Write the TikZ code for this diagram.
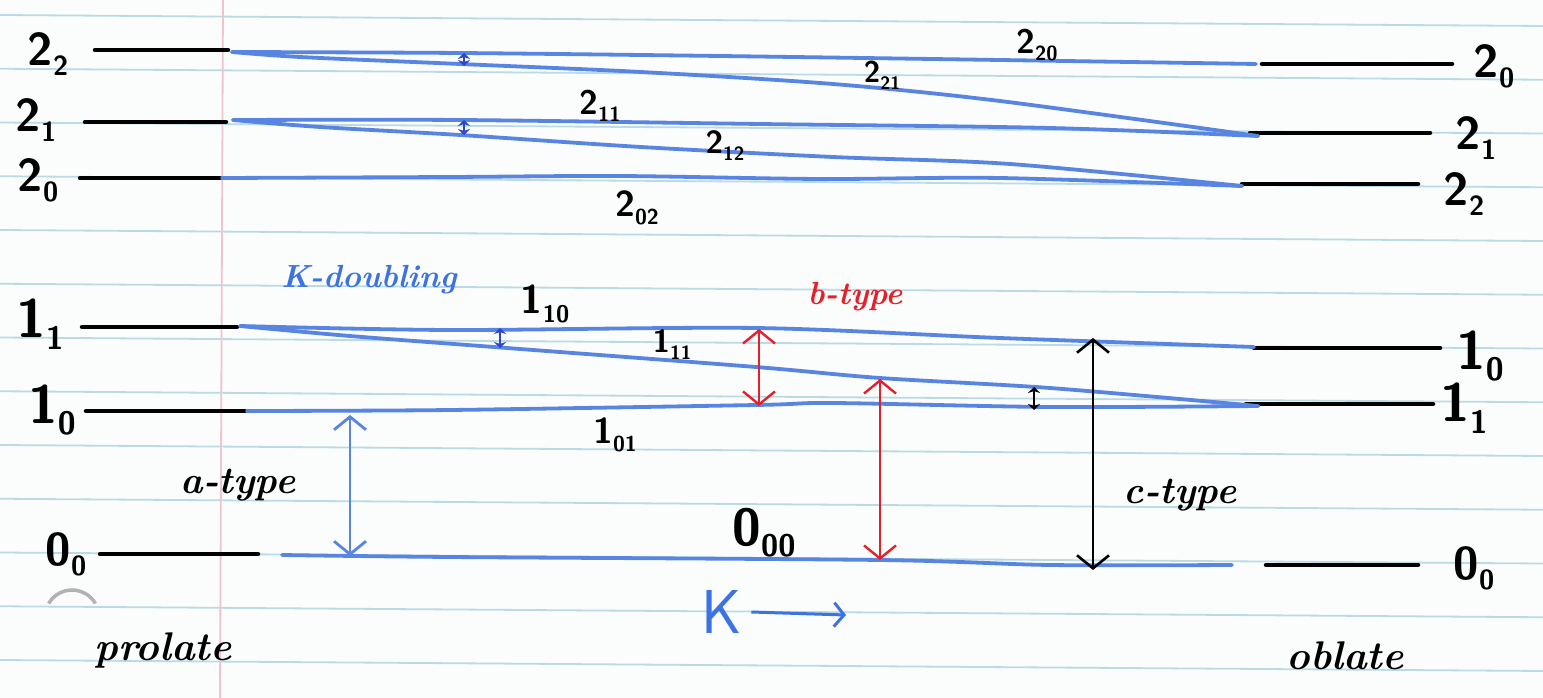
\documentclass[tikz,border=0pt]{standalone}
\usepackage{fontspec}
\usepackage{graphicx}
\usetikzlibrary{arrows.meta}
\definecolor{penblue}{RGB}{88,132,226}
\definecolor{inkblue}{RGB}{45,70,205}
\definecolor{textblue}{RGB}{60,115,225}
\definecolor{penred}{RGB}{228,32,42}
\definecolor{rulecol}{RGB}{185,218,230}
\definecolor{margincol}{RGB}{238,196,206}
\definecolor{paper}{RGB}{251,253,252}
\newcommand{\nl}[3]{{\fontsize{#1}{#1}\selectfont\sffamily\bfseries #2\raisebox{-0.22em}{\scalebox{0.6}{#3}}}}
\newcommand{\handword}[2]{{\fontsize{#1}{#1}\selectfont\itshape\bfseries #2}}
\tikzset{
  lvl/.style={black, line width=4.5pt, line cap=round},
  corr/.style={penblue, line width=3.8pt, line cap=round, line join=round},
  lab/.style={inner sep=0pt, anchor=center},
  bigarr/.style={line width=2.8pt, {Straight Barb[length=13pt,width=32pt]}-{Straight Barb[length=13pt,width=32pt]}},
  tinyarr/.style={line width=2.8pt, {Stealth[length=6pt,width=12pt]}-{Stealth[length=6pt,width=12pt]}},
  ruled/.style={rulecol, line width=1.8pt},
}
\begin{document}
\begin{tikzpicture}[x=1pt,y=-1pt]
\fill[paper] (0,0) rectangle (1543,698);
\useasboundingbox (0,0) rectangle (1543,698);
% ruled paper
\foreach \k in {0,...,12}{
  \draw[ruled] (0,{15+53.75*\k}) -- (1543,{26+53.75*\k});
}
\draw[margincol, line width=1.8pt] (223,0) -- (220,698);
% hole punch shadow
\coordinate (hole) at (72,617);
\draw[gray!60, line width=3.5pt] (hole) ++(-150:27) arc[start angle=-150, end angle=-30, radius=27];

% ---------- prolate levels (left) ----------
\coordinate (pa22) at (95,50);  \coordinate (pb22) at (228,50);
\coordinate (pa21) at (85,122); \coordinate (pb21) at (226,122);
\coordinate (pa20) at (80,178); \coordinate (pb20) at (220,178);
\coordinate (pa11) at (82,327); \coordinate (pb11) at (237,327);
\coordinate (pa10) at (86,411); \coordinate (pb10) at (245,411);
\coordinate (pa00) at (100,554); \coordinate (pb00) at (258,554);
\foreach \n in {22,21,20,11,10,00}{\draw[lvl] (pa\n) -- (pb\n);}

% ---------- oblate levels (right) ----------
\coordinate (oa20) at (1262,64);  \coordinate (ob20) at (1452,64);
\coordinate (oa21) at (1250,133); \coordinate (ob21) at (1430,133);
\coordinate (oa22) at (1242,184); \coordinate (ob22) at (1418,184);
\coordinate (oa10) at (1254,348); \coordinate (ob10) at (1440,348);
\coordinate (oa11) at (1246,404); \coordinate (ob11) at (1433,404);
\coordinate (oa00) at (1266,565); \coordinate (ob00) at (1418,565);
\foreach \n in {20,21,22,10,11,00}{\draw[lvl] (oa\n) -- (ob\n);}

% ---------- correlation lines ----------
\coordinate (L22) at (232,52);
\coordinate (L21) at (233,120);
\coordinate (L20) at (222,178);
\coordinate (L11) at (240,326);
\coordinate (L10) at (247,411);
\coordinate (L00) at (282,555);
\coordinate (R20) at (1256,64);
\coordinate (R21) at (1258,136);
\coordinate (R22) at (1242,186);
\coordinate (R10) at (1254,347);
\coordinate (R11) at (1258,406);
\coordinate (R00) at (1232,565);

\draw[corr] plot[smooth, tension=0.5] coordinates {(L22) (460,53) (720,56) (1000,60) (R20)};
\draw[corr] plot[smooth, tension=0.5] coordinates {(L22) (300,57) (460,64) (641,72) (833,84) (1000,101) (R21)};
\draw[corr] plot[smooth, tension=0.5] coordinates {(L21) (460,120) (760,124) (1050,128) (R21)};
\draw[corr] plot[smooth, tension=0.5] coordinates {(L21) (320,127) (460,135) (641,147) (833,157) (1010,164) (R22)};
\draw[corr] plot[smooth, tension=0.5] coordinates {(L20) (450,177) (620,176) (820,179) (1000,178) (R22)};
\draw[corr] plot[smooth, tension=0.5] coordinates {(L11) (450,330) (756,328) (1000,338) (R10)};
\draw[corr] plot[smooth, tension=0.5] coordinates {(L11) (350,336) (507,348) (756,367) (880,378) (1050,388) (R11)};
\draw[corr] plot[smooth, tension=0.5] coordinates {(L10) (450,410) (756,405) (833,403) (1050,407) (R11)};
\draw[corr] plot[smooth, tension=0.5] coordinates {(L00) (450,557) (880,560) (1050,565) (R00)};

% ---------- small splitting arrows ----------
\coordinate (s1a) at (464,53);  \coordinate (s1b) at (464,66);
\coordinate (s2a) at (464,120); \coordinate (s2b) at (464,135);
\coordinate (s3a) at (500,328); \coordinate (s3b) at (500,348);
\coordinate (s4a) at (1034,387); \coordinate (s4b) at (1034,410);
\draw[tinyarr, inkblue] (s1a) -- (s1b);
\draw[tinyarr, inkblue] (s2a) -- (s2b);
\draw[tinyarr, inkblue] (s3a) -- (s3b);
\draw[tinyarr, black] (s4a) -- (s4b);

% ---------- transition arrows ----------
\coordinate (ata) at (350,415); \coordinate (atb) at (350,556);
\coordinate (b1a) at (759,329); \coordinate (b1b) at (759,406);
\coordinate (b2a) at (880,379); \coordinate (b2b) at (880,560);
\coordinate (cta) at (1093,338); \coordinate (ctb) at (1093,570);
\draw[bigarr, penblue] (ata) -- (atb);
\draw[bigarr, penred, line width=2.4pt] (b1a) -- (b1b);
\draw[bigarr, penred, line width=2.4pt] (b2a) -- (b2b);
\draw[bigarr, black, line width=2.6pt] (cta) -- (ctb);

% ---------- labels left ----------
\node[lab] (t22) at (48,54) {\nl{46}{2}{2}};
\node[lab] (t21) at (36,120) {\nl{46}{2}{1}};
\node[lab] (t20) at (38,180) {\nl{46}{2}{0}};
\node[lab] (t11) at (40,324) {\nl{54}{1}{1}};
\node[lab] (t10) at (52,410) {\nl{54}{1}{0}};
\node[lab] (t00) at (66,554) {\nl{46}{0}{0}};
% ---------- labels right ----------
\node[lab] (u20) at (1494,66) {\nl{46}{2}{0}};
\node[lab] (u21) at (1476,138) {\nl{46}{2}{1}};
\node[lab] (u22) at (1464,194) {\nl{46}{2}{2}};
\node[lab] (u10) at (1480,356) {\nl{54}{1}{0}};
\node[lab] (u11) at (1464,408) {\nl{54}{1}{1}};
\node[lab] (u00) at (1474,568) {\nl{46}{0}{0}};
% ---------- state labels ----------
\node[lab] (n220) at (1037,45) {\nl{34}{2}{20}};
\node[lab] (n221) at (882,75) {\nl{30}{2}{21}};
\node[lab] (n211) at (600,106) {\nl{34}{2}{11}};
\node[lab] (n212) at (725,146) {\nl{32}{2}{12}};
\node[lab] (n202) at (637,208) {\nl{36}{2}{02}};
\node[lab] (n110) at (545,304) {\nl{40}{1}{10}};
\node[lab] (n111) at (672,345) {\nl{32}{1}{11}};
\node[lab] (n101) at (615,435) {\nl{36}{1}{01}};
\node[lab] (n000) at (764,533) {\nl{52}{0}{00}};
% ---------- words ----------
\node[lab, text=textblue] (kd) at (369,280) {\handword{32}{K-doubling}};
\node[lab, text=penred] (bt) at (855,297) {\handword{32}{b-type}};
\node[lab] (at) at (238,485) {\handword{38}{a-type}};
\node[lab] (ct) at (1180,495) {\handword{38}{c-type}};
\node[lab] (pro) at (163,650) {\handword{40}{prolate}};
\node[lab] (obl) at (1345,656) {\handword{40}{oblate}};
\node[lab, text=textblue] (Kax) at (722,612) {{\fontsize{62}{62}\selectfont\sffamily K}};
\coordinate (Kend) at (846,615);
\draw[textblue, line width=3pt, -{Straight Barb[length=10pt,width=24pt]}] ([xshift=9pt]Kax.east) -- (Kend);
\end{tikzpicture}
\end{document}
